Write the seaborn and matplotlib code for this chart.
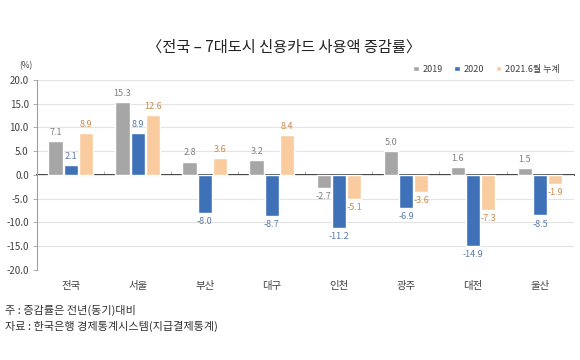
import matplotlib
matplotlib.use("Agg")
import matplotlib.pyplot as plt
import seaborn as sns
import pandas as pd
import numpy as np

categories = ["전국", "서울", "부산", "대구", "인천", "광주", "대전", "울산"]
series_names = ["2019", "2020", "2021.6월 누계"]
v2019 = [7.1, 15.3, 2.8, 3.2, -2.7, 5.0, 1.6, 1.5]
v2020 = [2.1, 8.9, -8.0, -8.7, -11.2, -6.9, -14.9, -8.5]
v2021 = [8.9, 12.6, 3.6, 8.4, -5.1, -3.6, -7.3, -1.9]
yticks = [20.0, 15.0, 10.0, 5.0, 0.0, -5.0, -10.0, -15.0, -20.0]

bar_colors = ["#a6a6a6", "#3f71b8", "#f9cb9f"]
label_colors = ["#7f7f7f", "#5b7aa6", "#c58b50"]

sns.set_theme(style="white")
plt.rcParams['font.family'] = ['Noto Sans CJK KR', 'DejaVu Sans']
plt.rcParams['axes.unicode_minus'] = False

df = pd.DataFrame({
    "지역": categories * 3,
    "series": sum([[s] * len(categories) for s in series_names], []),
    "value": v2019 + v2020 + v2021,
})

fig = plt.figure(figsize=(5.8, 3.6), dpi=100)
ax = fig.add_axes([0.064, 0.25, 0.925, 0.528])
sns.barplot(data=df, x="지역", y="value", hue="series", hue_order=series_names,
            palette=bar_colors, width=0.68, gap=0.06, ax=ax, legend=True,
            saturation=1, errorbar=None)

ax.set_ylim(-20, 20)
ax.set_yticks(yticks)
ax.set_yticklabels([f"{t:.1f}" for t in yticks], fontsize=7, color="#404040")
ax.yaxis.grid(True, color="#e3e3e3", linewidth=0.8)
ax.set_axisbelow(True)
ax.set_xlim(-0.5, len(categories) - 0.5)
ax.set_xlabel("")
ax.set_ylabel("")
ax.tick_params(axis="x", length=0, labelsize=7.5, labelcolor="#404040", pad=8)
ax.tick_params(axis="y", left=True, length=3, width=0.6, color="#a0a0a0", pad=3)
for s in ["top", "right", "bottom"]:
    ax.spines[s].set_visible(False)
ax.spines["left"].set_color("#a0a0a0")
ax.spines["left"].set_linewidth(0.8)

# zero line with category boundary ticks
sec = ax.secondary_xaxis(0.5)
sec.set_xticks(np.arange(len(categories) - 1) + 0.5)
sec.set_xticklabels([])
sec.tick_params(length=3, width=0.6, color="#a0a0a0", direction="out")
sec.spines["bottom"].set_color("#a0a0a0")
sec.spines["bottom"].set_linewidth(0.8)

for cont, lc in zip(ax.containers, label_colors):
    ax.bar_label(cont, fmt="%.1f", padding=3, fontsize=6.5, color=lc)

handles, labels = ax.get_legend_handles_labels()
leg = ax.legend(handles, labels, loc="lower right", bbox_to_anchor=(0.985, 1.0),
                ncol=3, frameon=False, fontsize=6.5, handlelength=0.6,
                handleheight=0.6, handletextpad=0.4, columnspacing=1.3,
                borderaxespad=0.3)
for t in leg.get_texts():
    t.set_color("#404040")

fig.text(0.49, 0.868, "〈전국 – 7대도시 신용카드 사용액 증감률〉", ha="center", va="center",
         fontsize=11, color="#222222")
fig.text(0.045, 0.818, "(%)", ha="center", va="center", fontsize=6, color="#404040")
fig.text(0.008, 0.138, "주 : 증감률은 전년(동기)대비", ha="left", va="center",
         fontsize=8, color="#333333")
fig.text(0.008, 0.094, "자료 : 한국은행 경제통계시스템(지급결제통계)", ha="left", va="center",
         fontsize=8, color="#333333")

fig.savefig("out.png", dpi=100, facecolor="white")
